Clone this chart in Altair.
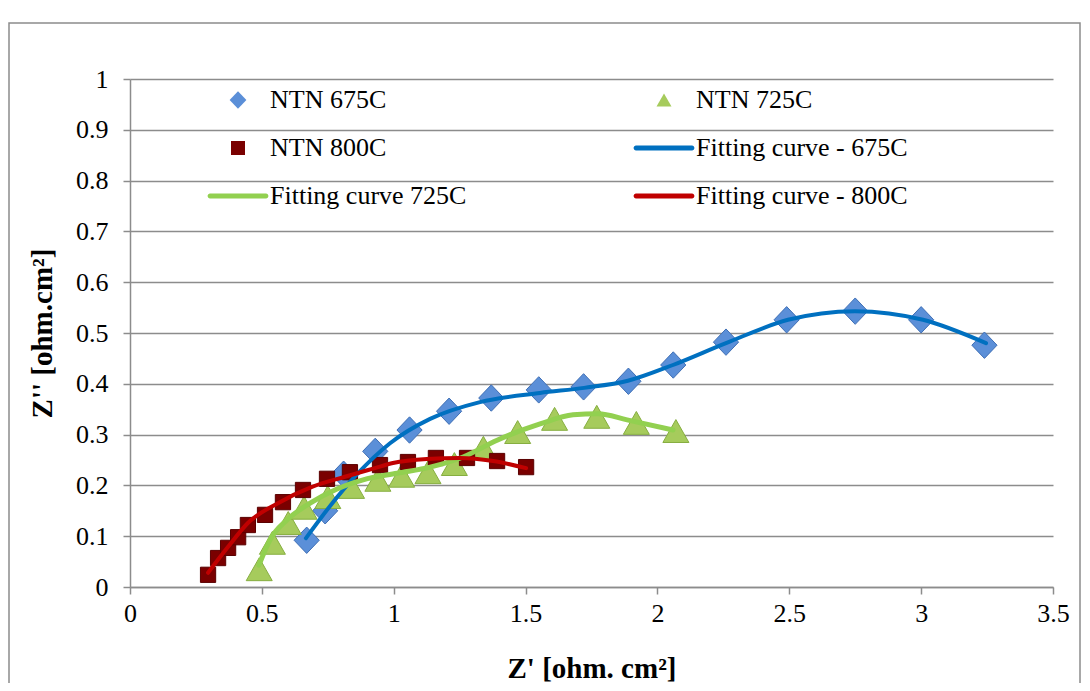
import altair as alt
import pandas as pd

# ---------------- data ----------------
SERIES = ["NTN 675C", "NTN 725C", "NTN 800C",
          "Fitting curve - 675C", "Fitting curve 725C", "Fitting curve - 800C"]

x_675 = [0.67, 0.74, 0.81, 0.93, 1.06, 1.21, 1.37, 1.55, 1.72, 1.89, 2.06, 2.26, 2.49, 2.75, 3.00, 3.24]
y_675 = [0.092, 0.150, 0.222, 0.267, 0.309, 0.346, 0.372, 0.388, 0.394, 0.405, 0.437, 0.482, 0.526, 0.543, 0.526, 0.476]

x_725 = [0.49, 0.54, 0.60, 0.66, 0.75, 0.84, 0.94, 1.03, 1.13, 1.23, 1.34, 1.47, 1.61, 1.77, 1.92, 2.07]
y_725 = [0.035, 0.087, 0.126, 0.156, 0.177, 0.197, 0.211, 0.219, 0.226, 0.242, 0.274, 0.305, 0.331, 0.335, 0.323, 0.307]

x_800 = [0.296, 0.334, 0.372, 0.410, 0.447, 0.512, 0.580, 0.656, 0.747, 0.834, 0.948, 1.054, 1.160, 1.278, 1.392, 1.502]
y_800 = [0.024, 0.057, 0.077, 0.098, 0.122, 0.142, 0.167, 0.191, 0.213, 0.226, 0.240, 0.246, 0.254, 0.254, 0.248, 0.236]

fx_675 = [0.667, 0.758, 0.861, 0.986, 1.138, 1.327, 1.555, 1.722, 1.888, 2.059, 2.260, 2.495, 2.749, 3.007, 3.246]
fy_675 = [0.096, 0.159, 0.222, 0.283, 0.331, 0.364, 0.382, 0.392, 0.406, 0.437, 0.480, 0.526, 0.543, 0.526, 0.480]

fx_725 = [0.489, 0.531, 0.595, 0.683, 0.785, 0.884, 1.013, 1.138, 1.263, 1.392, 1.555, 1.680, 1.775, 1.885, 2.059]
fy_725 = [0.043, 0.093, 0.132, 0.165, 0.193, 0.211, 0.224, 0.236, 0.256, 0.289, 0.321, 0.339, 0.341, 0.329, 0.309]

fx_800 = [0.296, 0.372, 0.447, 0.561, 0.690, 0.815, 0.929, 0.997, 1.126, 1.251, 1.377, 1.502]
fy_800 = [0.028, 0.079, 0.126, 0.165, 0.197, 0.217, 0.234, 0.244, 0.252, 0.254, 0.248, 0.234]

x_ticks = [0, 0.5, 1, 1.5, 2, 2.5, 3, 3.5]
y_ticks = [0, 0.1, 0.2, 0.3, 0.4, 0.5, 0.6, 0.7, 0.8, 0.9, 1]

# ---------------- tables ----------------
def frame(name, xs, ys):
    return pd.DataFrame({"series": name, "x": xs, "y": ys})

pts = {
    "NTN 675C": frame("NTN 675C", x_675, y_675),
    "NTN 725C": frame("NTN 725C", x_725, y_725),
    "NTN 800C": frame("NTN 800C", x_800, y_800),
}
fits = {
    "Fitting curve - 675C": frame("Fitting curve - 675C", fx_675, fy_675),
    "Fitting curve 725C": frame("Fitting curve 725C", fx_725, fy_725),
    "Fitting curve - 800C": frame("Fitting curve - 800C", fx_800, fy_800),
}

FONT = "Liberation Serif"

DIAMOND = "M0,-0.44L0.42,0L0,0.44L-0.42,0Z"
TRIANGLE = "M0,-0.33L0.375,0.33L-0.375,0.33Z"
SQUARE = "M-0.35,-0.35H0.35V0.35H-0.35Z"
LINE = "M-1.4,-0.12H1.4A0.12,0.12 0 0 1 1.4,0.12H-1.4A0.12,0.12 0 0 1 -1.4,-0.12Z"

color_scale = alt.Scale(domain=SERIES,
                        range=["#5B8FD8", "#A6CB5C", "#7A0000", "#0070C0", "#92D050", "#C00000"])
shape_scale = alt.Scale(domain=SERIES, range=[DIAMOND, TRIANGLE, SQUARE, LINE, LINE, LINE])
stroke_scale = alt.Scale(domain=SERIES[:3], range=["#3F6FB5", "#86AE40", "#5A0000"])

legend = alt.Legend(
    title=None, orient="none", legendX=88, legendY=1, columns=2, direction="horizontal",
    columnPadding=166, rowPadding=15, padding=0,
    symbolSize=1600, symbolStrokeWidth=0, symbolOffset=0,
    labelFont=FONT, labelFontSize=26, labelColor="#000000", labelOffset=12,
    labelLimit=0,
)

x_enc = alt.X("x:Q", scale=alt.Scale(domain=[0, 3.5], nice=False, zero=False),
              axis=alt.Axis(values=x_ticks, format="~g", grid=False, labelFlush=False,
                            title="Z' [ohm. cm²]", titleY=81, titleBaseline="middle"))
y_enc = alt.Y("y:Q", scale=alt.Scale(domain=[0, 1], nice=False),
              axis=alt.Axis(values=y_ticks, format="~g", grid=True, labelFlush=False,
                            title="Z'' [ohm.cm²]", titleX=-88, titleY=254,
                            titleAngle=-90, titleAlign="center", titleBaseline="middle"))

sizes = {"NTN 675C": 3600, "NTN 725C": 4816, "NTN 800C": 1900}
layers = []
for name, df in pts.items():
    layers.append(
        alt.Chart(df).mark_point(filled=True, opacity=1, strokeWidth=1, size=sizes[name]).encode(
            x=x_enc, y=y_enc,
            color=alt.Color("series:N", scale=color_scale, legend=legend),
            shape=alt.Shape("series:N", scale=shape_scale, legend=legend),
            stroke=alt.Stroke("series:N", scale=stroke_scale, legend=None),
        )
    )
widths = {"Fitting curve - 675C": 4, "Fitting curve 725C": 5, "Fitting curve - 800C": 4}
for name, df in fits.items():
    layers.append(
        alt.Chart(df).mark_line(interpolate="monotone", strokeCap="round",
                                strokeWidth=widths[name]).encode(
            x=x_enc, y=y_enc,
            color=alt.Color("series:N", scale=color_scale, legend=legend),
        )
    )

frame_rect = alt.Chart(pd.DataFrame({"a": [0]})).mark_rect(
    fillOpacity=0, stroke="#8c8c8c", strokeWidth=1.5
).encode(x=alt.value(-121), x2=alt.value(950), y=alt.value(-56), y2=alt.value(720))

chart = alt.layer(frame_rect, *layers).properties(
    width=923, height=508,
    autosize=alt.AutoSizeParams(type="none"),
    padding={"left": 122, "top": 71, "right": 29, "bottom": 96},
).configure(font=FONT).configure_view(stroke=None).configure_axis(
    labelFont=FONT, labelFontSize=26, labelColor="#000000",
    titleFont=FONT, titleFontSize=29, titleFontWeight="bold", titleColor="#000000",
    domainColor="#8c8c8c", domainWidth=1.5, tickColor="#8c8c8c", tickWidth=1.5,
    tickSize=7, gridColor="#8c8c8c", gridWidth=1.5,
).configure_axisY(labelPadding=15).configure_axisX(labelPadding=6)

chart.save("out.html", embed_options={"renderer": "svg", "actions": False})
